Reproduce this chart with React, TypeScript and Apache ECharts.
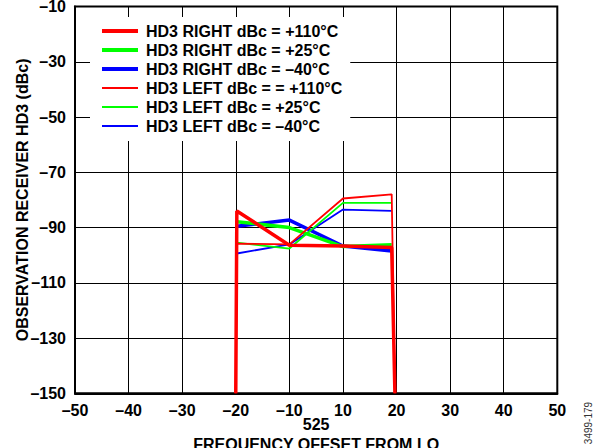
import { useEffect, useRef } from "react";
import * as echarts from "echarts";

// x axis: tick labels (MHz offset from LO), drawn at index positions 0..9
const xTickLabels = ["–50", "–40", "–30", "–20", "–10", "10", "20", "30", "40", "50"];
// positions (on the tick-index axis) of the measured points at –20, –10, 10, 20
const pointPos = [3.02, 4, 5, 5.91];
const edgeLeftPos = 3.0;
const edgeRightPos = 5.97;
const floorValue = -150;

// series values (dBc)
const hd3Right110 = [-84.0, -96.4, -96.7, -97.2];
const hd3Right25 = [-87.9, -90.0, -96.9, -96.2];
const hd3RightM40 = [-89.5, -87.3, -96.7, -98.5];
const hd3Left110 = [-95.8, -96.1, -79.5, -78.0];
const hd3Left25 = [-95.5, -97.6, -81.1, -81.1];
const hd3LeftM40 = [-99.4, -96.1, -83.5, -84.0];

const legendNames = [
  "HD3 RIGHT dBc = +110°C",
  "HD3 RIGHT dBc = +25°C",
  "HD3 RIGHT dBc = –40°C",
  "HD3 LEFT dBc = = +110°C",
  "HD3 LEFT dBc = +25°C",
  "HD3 LEFT dBc = –40°C",
];

const FONT = "'Liberation Sans', Arial, Helvetica, sans-serif";
const THICK = 3.5;
const THIN = 1.8;

function pts(vals: number[], edges: boolean) {
  const d: number[][] = vals.map((v, i) => [pointPos[i], v]);
  if (edges) {
    d.unshift([edgeLeftPos, floorValue]);
    d.push([edgeRightPos, floorValue]);
  }
  return d;
}

export default function App() {
  const ref = useRef<HTMLDivElement>(null);
  useEffect(() => {
    if (!ref.current) return;
    const chart = echarts.init(ref.current, undefined, { renderer: "svg" });
    const mk = (name: string, vals: number[], color: string, w: number, edges: boolean) => ({
      name,
      type: "line",
      data: pts(vals, edges),
      symbol: "none",
      lineStyle: { color, width: w },
      itemStyle: { color },
      silent: true,
    });
    const legendColors = ["#ff0000", "#00ff00", "#0000ff", "#ff0000", "#00ff00", "#0000ff"];
    chart.setOption({
      animation: false,
      backgroundColor: "#fff",
      textStyle: { fontFamily: FONT },
      grid: {
        left: 75,
        right: 42.7,
        top: 6.5,
        bottom: 54.7,
        containLabel: false,
        outerBoundsMode: "none",
        show: true,
        borderColor: "#000",
        borderWidth: 2,
        backgroundColor: "transparent",
      },
      legend: {
        data: legendNames.map((n, i) => ({
          name: n,
          lineStyle: { color: legendColors[i], width: i < 3 ? 4 : 2 },
        })),
        orient: "vertical",
        left: 90,
        top: 17,
        padding: [6, 8, 7, 10],
        backgroundColor: "#fff",
        itemWidth: 36,
        itemHeight: 14,
        itemGap: 3,
        itemStyle: { opacity: 0 },
        textStyle: {
          fontFamily: FONT,
          fontWeight: "bold",
          fontSize: 16,
          color: "#000",
          padding: [0, 0, 0, 3],
        },
      },
      xAxis: {
        type: "value",
        min: 0,
        max: 9,
        interval: 1,
        axisLine: { show: true, lineStyle: { color: "#000", width: 2 } },
        axisTick: { show: false },
        splitLine: { show: true, lineStyle: { color: "#000", width: 1 } },
        axisLabel: {
          margin: 9,
          fontFamily: FONT,
          fontWeight: "bold",
          fontSize: 16,
          color: "#000",
          formatter: (v: number) => xTickLabels[Math.round(v)] ?? "",
        },
        name: "525\nFREQUENCY OFFSET FROM LO",
        nameLocation: "middle",
        nameGap: 21,
        nameMoveOverlap: false,
        nameTextStyle: {
          fontFamily: FONT,
          fontWeight: "bold",
          fontSize: 16,
          lineHeight: 20,
          color: "#000",
        },
      },
      yAxis: {
        type: "value",
        min: -150,
        max: -10,
        interval: 20,
        axisLine: { show: true, lineStyle: { color: "#000", width: 2 } },
        axisTick: { show: false },
        splitLine: { show: true, lineStyle: { color: "#000", width: 1 } },
        axisLabel: {
          margin: 9,
          padding: [6, 0, 0, 0],
          fontFamily: FONT,
          fontWeight: "bold",
          fontSize: 16,
          color: "#000",
          formatter: (v: number) => (v < 0 ? "–" + Math.abs(v) : String(v)),
        },
        name: "OBSERVATION RECEIVER HD3 (dBc)",
        nameLocation: "middle",
        nameGap: 45,
        nameMoveOverlap: false,
        nameTextStyle: {
          fontFamily: FONT,
          fontWeight: "bold",
          fontSize: 16,
          color: "#000",
        },
      },
      graphic: [
        {
          type: "text",
          x: 588,
          y: 423,
          rotation: Math.PI / 2,
          style: {
            text: "3499-179",
            fontFamily: FONT,
            fontSize: 10,
            fill: "#333",
            align: "center",
            verticalAlign: "middle",
          },
        },
      ],
      series: [
        mk(legendNames[5], hd3LeftM40, "#0000ff", THIN, false),
        mk(legendNames[2], hd3RightM40, "#0000ff", THICK, false),
        mk(legendNames[4], hd3Left25, "#00ff00", THIN, false),
        mk(legendNames[1], hd3Right25, "#00ff00", THICK, false),
        mk(legendNames[3], hd3Left110, "#ff0000", THIN, true),
        mk(legendNames[0], hd3Right110, "#ff0000", THICK, true),
      ],
    });
    return () => chart.dispose();
  }, []);
  return (
    <div
      ref={ref}
      style={{ position: "fixed", left: 0, top: 0, width: 600, height: 448 }}
    />
  );
}
